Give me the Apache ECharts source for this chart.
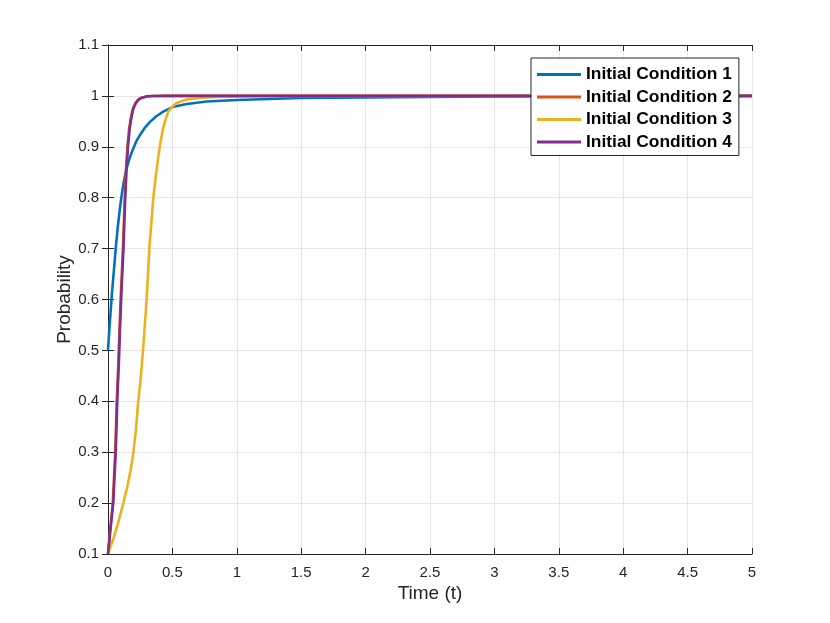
<!DOCTYPE html>
<html lang="en">
<head>
    <meta charset="UTF-8">
    <title>Probability vs Time</title>
    <script src="https://cdn.jsdelivr.net/npm/echarts@6/dist/echarts.min.js"></script>
    <style>
        html, body { margin: 0; padding: 0; background: #fff; }
        #chart { width: 830px; height: 623px; }
    </style>
</head>
<body>
<div id="chart"></div>
<script type="application/javascript">
    // values
    var seriesNames = ['Initial Condition 1', 'Initial Condition 2', 'Initial Condition 3', 'Initial Condition 4'];

    var t1 = [0, 0.01, 0.02, 0.03, 0.045, 0.06, 0.075, 0.093, 0.105, 0.119, 0.138, 0.158, 0.178, 0.197, 0.22, 0.248, 0.285, 0.326, 0.375, 0.429, 0.5, 0.611, 0.766, 1, 1.25, 1.5, 2, 2.5, 3, 4, 5];
    var p1 = [0.5, 0.54, 0.575, 0.61, 0.655, 0.7, 0.74, 0.78, 0.803, 0.826, 0.851, 0.87, 0.885, 0.897, 0.911, 0.923, 0.937, 0.949, 0.96, 0.969, 0.978, 0.984, 0.989, 0.992, 0.994, 0.996, 0.997, 0.998, 0.999, 0.9995, 1];

    var t2 = [0, 0.017, 0.037, 0.056, 0.068, 0.081, 0.089, 0.098, 0.116, 0.13, 0.141, 0.151, 0.164, 0.176, 0.193, 0.211, 0.231, 0.256, 0.296, 0.35, 0.45, 5];
    var p2 = [0.1, 0.15, 0.2, 0.3, 0.4, 0.48, 0.54, 0.6, 0.7, 0.8, 0.86, 0.9, 0.935, 0.955, 0.975, 0.985, 0.992, 0.996, 0.999, 0.9998, 1, 1];

    var t3 = [0, 0.047, 0.085, 0.119, 0.15, 0.176, 0.197, 0.217, 0.233, 0.253, 0.272, 0.286, 0.3, 0.321, 0.352, 0.372, 0.391, 0.408, 0.425, 0.445, 0.468, 0.5, 0.533, 0.611, 0.714, 0.84, 1.0, 1.2, 5];
    var p3 = [0.1, 0.134, 0.167, 0.2, 0.232, 0.265, 0.299, 0.344, 0.396, 0.442, 0.5, 0.55, 0.6, 0.7, 0.8, 0.845, 0.881, 0.91, 0.933, 0.953, 0.969, 0.979, 0.986, 0.993, 0.996, 0.998, 0.999, 1, 1];

    var t4 = [0, 0.02, 0.041, 0.06, 0.072, 0.085, 0.093, 0.102, 0.12, 0.134, 0.145, 0.155, 0.168, 0.18, 0.197, 0.215, 0.235, 0.26, 0.3, 0.35, 0.45, 5];
    var p4 = [0.1, 0.15, 0.2, 0.3, 0.4, 0.48, 0.54, 0.6, 0.7, 0.8, 0.86, 0.9, 0.935, 0.955, 0.975, 0.985, 0.992, 0.996, 0.999, 0.9998, 1, 1];

    var colors = ['#0072BD', '#D95319', '#EDB120', '#7E2F8E'];

    function pairs(t, p) {
        return t.map(function (x, i) { return [x, p[i]]; });
    }

    var font = 'Liberation Sans, Arial, Helvetica, sans-serif';
    var axisColor = '#262626';

    function fmt(v) {
        return String(Math.round(v * 10) / 10);
    }

    var chart = echarts.init(document.getElementById('chart'));
    var option = {
        animation: false,
        backgroundColor: '#fff',
        grid: {left: 108, right: 78, top: 45, bottom: 69},
        legend: {
            data: seriesNames,
            orient: 'vertical',
            left: 531,
            top: 58,
            padding: [8, 7, 5, 6],
            itemGap: 5.5,
            itemWidth: 44,
            itemHeight: 3,
            icon: 'rect',
            backgroundColor: '#fff',
            borderColor: axisColor,
            borderWidth: 1,
            borderRadius: 0,
            textStyle: {fontFamily: font, fontWeight: 'bold', fontSize: 17.4, color: '#000'}
        },
        xAxis: [{
            type: 'value',
            min: 0, max: 5, interval: 0.5,
            name: 'Time (t)',
            nameLocation: 'middle',
            nameGap: 30,
            nameMoveOverlap: false,
            nameTextStyle: {fontFamily: font, fontSize: 19, color: axisColor},
            axisLine: {lineStyle: {color: axisColor, width: 1}},
            axisTick: {inside: true, length: 6, lineStyle: {color: axisColor}},
            axisLabel: {fontFamily: font, fontSize: 15, color: axisColor, margin: 11, formatter: fmt},
            splitLine: {show: true, lineStyle: {color: '#e6e6e6', width: 1}}
        }, {
            type: 'value',
            position: 'top',
            min: 0, max: 5, interval: 0.5,
            axisLine: {show: true, lineStyle: {color: axisColor, width: 1}},
            axisTick: {show: true, inside: true, length: 6, lineStyle: {color: axisColor}},
            axisLabel: {show: false},
            splitLine: {show: false}
        }],
        yAxis: [{
            type: 'value',
            min: 0.1, max: 1.1, interval: 0.1,
            name: 'Probability',
            nameLocation: 'middle',
            nameGap: 34,
            nameMoveOverlap: false,
            nameTextStyle: {fontFamily: font, fontSize: 19, color: axisColor},
            axisLine: {show: true, lineStyle: {color: axisColor, width: 1}},
            axisTick: {show: true, inside: true, length: 6, lineStyle: {color: axisColor}},
            axisLabel: {fontFamily: font, fontSize: 15, color: axisColor, margin: 9, formatter: fmt},
            splitLine: {show: true, lineStyle: {color: '#e6e6e6', width: 1}}
        }, {
            type: 'value',
            position: 'right',
            min: 0.1, max: 1.1, interval: 0.1,
            axisLine: {show: true, lineStyle: {color: axisColor, width: 1}},
            axisTick: {show: true, inside: true, length: 6, lineStyle: {color: axisColor}},
            axisLabel: {show: false},
            splitLine: {show: false}
        }],
        series: [
            {name: seriesNames[0], data: pairs(t1, p1)},
            {name: seriesNames[1], data: pairs(t2, p2)},
            {name: seriesNames[2], data: pairs(t3, p3)},
            {name: seriesNames[3], data: pairs(t4, p4)}
        ].map(function (s, i) {
            s.type = 'line';
            s.xAxisIndex = 0;
            s.yAxisIndex = 0;
            s.showSymbol = false;
            s.smooth = false;
            s.color = colors[i];
            s.lineStyle = {width: 2.6, color: colors[i]};
            return s;
        })
    };
    chart.setOption(option);
</script>
</body>
</html>
